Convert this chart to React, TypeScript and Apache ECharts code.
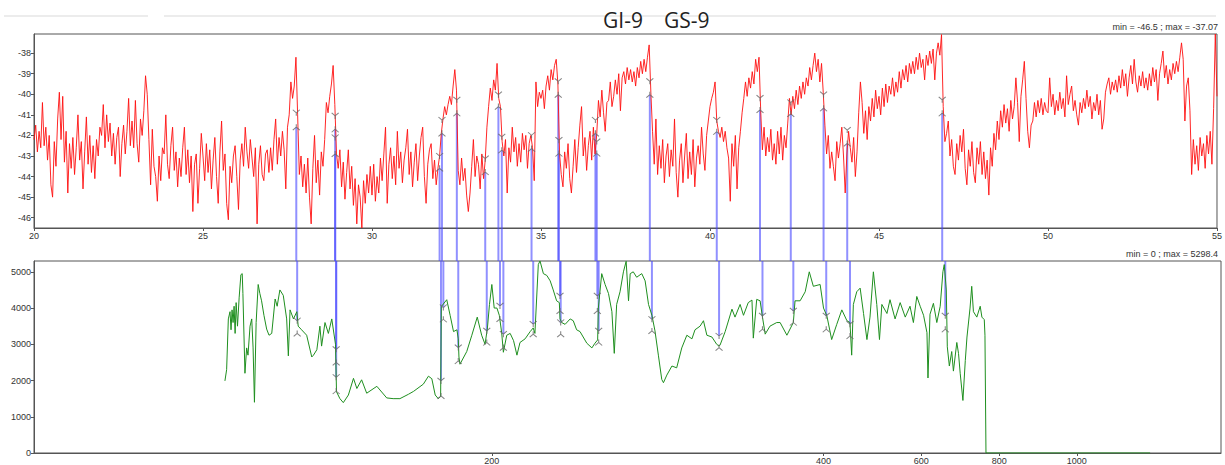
import { useEffect, useRef } from "react";
import * as echarts from "echarts";

// ---------- data ----------
const TITLE_A = "GI-9";
const TITLE_B = "GS-9";
const TOP_NOTE = "min = -46.5 ; max = -37.07";
const BOT_NOTE = "min = 0 ; max = 5298.4";

const TOP_MIN = -46.5;
const TOP_MAX = -37.07;
const BOT_MIN = 0;
const BOT_MAX = 5298.4;

const topYTicks = [-46, -45, -44, -43, -42, -41, -40, -39, -38];
const botYTicks = [0, 1000, 2000, 3000, 4000, 5000];
const botXTickPos = [33.5, 43.28, 46.16, 48.46, 50.75];
const botXTickLabels = ["200", "400", "600", "800", "1000"];

// red record, sampled every 0.05 from 20
const RED_START = 20;
const RED_STEP = 0.05;
const redValues = [
  -42.2, -41.5, -42.8, -41.8, -42.6, -40.4, -42.5, -41.6, -43.2, -42.0, -44.4, -45.0, -42.3, -43.5, -41.2, -39.9, -42.2, -40.1, -43.3, -41.8,
  -44.8, -42.4, -43.6, -42.1, -43.9, -42.6, -41.0, -43.2, -42.3, -44.6, -42.8, -41.1, -43.4, -42.0, -43.8, -42.5, -44.1, -42.2, -43.0, -41.6,
  -42.0, -40.5, -42.6, -41.0, -42.3, -41.4, -43.0, -41.9, -43.4, -42.1, -41.6, -44.0, -42.4, -41.5, -42.9, -41.8, -40.2, -42.5, -41.3, -42.6,
  -40.3, -42.4, -43.3, -41.2, -42.0, -40.8, -39.1, -40.0, -42.2, -44.4, -41.7, -43.5, -44.0, -45.2, -43.0, -44.2, -42.6, -42.9, -41.0, -43.4,
  -44.1, -42.5, -41.6, -43.7, -42.8, -44.5, -43.1, -44.0, -42.6, -41.6, -43.9, -42.7, -44.3, -43.0, -45.7, -43.4, -42.9, -45.3, -43.6, -41.9,
  -43.0, -44.2, -42.4, -43.8, -42.7, -44.6, -43.2, -42.1, -44.0, -45.3, -42.8, -41.3, -43.7, -42.9, -45.3, -46.1, -43.5, -44.3, -43.0, -42.5,
  -44.0, -45.6, -43.2, -42.4, -43.5, -41.6, -42.8, -43.6, -42.2, -43.1, -44.0, -42.6, -46.3, -43.4, -42.5, -43.9, -44.2, -42.9, -42.7, -43.8,
  -42.6, -43.7, -42.2, -41.2, -43.4, -42.1, -43.0, -41.8, -42.7, -44.6, -41.6, -41.0, -39.4, -40.2, -39.6, -38.2, -41.0, -43.9, -43.0, -44.5,
  -43.4, -44.8, -43.1, -45.0, -46.3, -43.6, -42.0, -44.3, -43.2, -44.9, -42.8, -43.5, -42.2, -40.4, -40.9, -40.1, -39.5, -38.6, -40.5, -42.9,
  -43.6, -42.7, -44.5, -43.3, -45.1, -43.8, -42.7, -44.6, -43.5, -45.4, -44.1, -46.3, -44.4, -45.0, -46.5, -44.2, -45.3, -43.9, -44.8, -43.5,
  -44.9, -43.4, -45.2, -44.0, -44.8, -43.1, -44.2, -42.9, -41.6, -45.3, -43.4, -42.6, -44.1, -43.0, -44.4, -41.8, -43.6, -42.8, -44.3, -43.2,
  -42.6, -41.7, -43.9, -42.8, -44.5, -43.3, -42.4, -44.2, -43.0, -42.1, -41.6, -44.0, -45.3, -43.4, -42.7, -42.4, -44.1, -43.2, -44.4, -43.6,
  -43.0, -41.9, -41.2, -40.6, -41.0, -40.5, -40.1, -40.5, -39.6, -38.8, -39.8, -43.7, -44.4, -43.1, -44.2, -43.6, -44.9, -45.7, -44.8, -43.5,
  -42.2, -44.0, -43.0, -43.4, -44.6, -42.9, -44.1, -43.2, -41.6, -40.6, -39.7, -40.3, -39.3, -39.8, -38.5, -40.2, -40.6, -42.3, -43.0, -42.2,
  -44.8, -42.6, -43.3, -41.6, -42.8, -42.1, -43.5, -42.4, -43.3, -41.9, -42.7, -42.0, -43.6, -42.4, -42.0, -42.6, -44.2, -39.4, -40.6, -39.9,
  -40.2, -39.8, -40.7, -39.6, -39.1, -39.8, -38.8, -39.3, -38.6, -38.3, -39.5, -42.9, -43.9, -44.5, -42.8, -43.6, -42.4, -44.1, -44.8, -43.5,
  -42.2, -43.8, -42.6, -41.5, -40.6, -43.0, -42.1, -43.7, -42.5, -41.8, -43.2, -41.6, -42.9, -41.9, -40.3, -41.1, -39.8, -40.9, -41.8, -40.4,
  -40.3, -39.4, -40.6, -40.1, -39.3, -40.0, -39.0, -40.8, -39.2, -38.9, -39.5, -38.7, -39.3, -38.8, -39.4, -38.9, -39.6, -38.7, -39.2, -38.4,
  -39.0, -38.3, -38.9, -38.2, -37.6, -39.9, -41.8, -43.4, -41.2, -43.9, -42.5, -43.6, -42.2, -44.3, -43.0, -42.4, -44.0, -42.7, -43.5, -41.2,
  -43.8, -45.0, -43.2, -42.4, -44.3, -43.0, -41.9, -44.1, -42.8, -43.9, -42.2, -44.5, -43.1, -42.5, -43.4, -41.6, -42.9, -43.7, -42.0, -41.3,
  -40.6, -40.2, -39.9, -39.4, -41.3, -41.8, -42.1, -41.6, -42.3, -41.8, -42.6, -43.1, -45.2, -42.4, -43.5, -42.0, -44.6, -42.6, -41.8, -40.9,
  -40.2, -39.4, -40.1, -39.2, -39.7, -38.9, -39.5, -38.3, -38.9, -38.2, -40.8, -42.7, -41.6, -43.0, -42.1, -42.8, -41.7, -43.2, -42.4, -43.4,
  -41.8, -42.9, -41.6, -43.2, -42.0, -42.6, -41.4, -40.2, -41.0, -40.1, -40.7, -39.8, -40.5, -39.6, -40.2, -39.4, -40.0, -39.2, -39.6, -38.7,
  -39.3, -38.6, -38.0, -38.9, -38.3, -39.4, -38.5, -39.9, -41.5, -42.9, -42.0, -43.6, -42.8, -43.5, -44.2, -42.3, -43.1, -42.4, -41.6, -43.0,
  -44.8, -42.9, -41.8, -42.6, -43.3, -42.1, -44.0, -42.8, -40.9, -39.4, -40.4, -41.9, -40.8, -42.2, -40.6, -41.3, -40.2, -41.1, -39.8, -40.7,
  -40.1, -41.0, -39.7, -40.6, -39.5, -40.4, -39.6, -40.0, -39.2, -40.1, -39.4, -39.9, -38.9, -39.7, -38.8, -39.3, -38.6, -39.4, -38.5, -39.0,
  -38.4, -39.0, -38.2, -38.8, -38.0, -38.7, -38.3, -39.3, -38.1, -38.6, -37.9, -38.5, -37.8, -39.3, -38.0, -37.5, -38.1, -37.1, -40.6, -42.3,
  -41.9, -41.3, -43.0, -42.2, -43.5, -43.9, -42.4, -43.2, -42.0, -42.8, -41.7, -43.6, -44.4, -42.7, -43.5, -42.3, -43.8, -44.3, -42.6, -43.4,
  -42.3, -43.9, -42.8, -44.1, -43.2, -44.9, -42.6, -43.5, -41.9, -42.7, -41.3, -42.2, -40.8, -41.6, -40.5, -41.4, -40.7, -41.8, -40.3, -41.2,
  -40.6, -39.2, -40.4, -42.3, -40.1, -39.3, -38.4, -40.2, -41.8, -42.6, -41.5, -41.3, -40.4, -41.1, -40.3, -40.9, -40.2, -41.0, -40.4, -40.8,
  -40.9, -39.2, -40.6, -40.0, -41.0, -40.3, -40.8, -39.9, -40.7, -40.2, -41.1, -39.1, -40.5, -40.0, -39.6, -40.8, -40.3, -41.0, -41.5, -40.4,
  -40.9, -40.2, -40.7, -39.8, -40.6, -40.1, -41.2, -40.4, -40.8, -40.0, -41.0, -40.3, -41.7, -41.2, -39.9, -39.5, -39.2, -40.0, -39.4, -39.8,
  -39.3, -39.9, -39.1, -39.7, -38.8, -39.6, -39.0, -40.1, -39.2, -38.6, -39.5, -38.3, -39.4, -39.9, -39.1, -39.6, -38.9, -39.7, -39.2, -39.8,
  -39.0, -39.6, -38.7, -39.4, -38.8, -40.3, -39.0, -38.5, -37.9, -39.2, -38.6, -39.5, -38.8, -39.3, -38.5, -39.0, -38.4, -38.9, -38.2, -37.5,
  -38.3, -41.3, -39.6, -39.2, -40.8, -43.9, -42.2, -43.4, -42.5, -43.7, -42.1, -43.0, -42.4, -43.6, -42.0, -42.9, -41.8, -43.4, -40.7, -37.07,
  -40.1,
];

// green record (position on the warped lower axis, value)
const greenAge = [
  25.63, 25.68, 25.73, 25.78, 25.81, 25.84, 25.87, 25.9, 25.93, 25.96, 26.0, 26.05, 26.1, 26.14, 26.16, 26.22, 26.27, 26.31, 26.37, 26.42,
  26.46, 26.5, 26.55, 26.61, 26.66, 26.71, 26.78, 26.86, 26.93, 27.01, 27.11, 27.17, 27.25, 27.35, 27.45, 27.5, 27.55, 27.65, 27.75, 27.79,
  27.89, 28.04, 28.19, 28.24, 28.34, 28.43, 28.48, 28.58, 28.68, 28.78, 28.89, 28.92, 29.02, 29.12, 29.27, 29.42, 29.52, 29.66, 29.81, 30.11,
  30.4, 30.59, 30.79, 31.04, 31.19, 31.48, 31.63, 31.73, 31.83, 31.92, 31.99, 32.01, 32.17, 32.27, 32.37, 32.47, 32.51, 32.53, 32.56, 32.76,
  32.91, 33.07, 33.2, 33.3, 33.37, 33.43, 33.5, 33.57, 33.65, 33.72, 33.79, 33.84, 33.94, 34.04, 34.14, 34.24, 34.33, 34.48, 34.63, 34.72,
  34.77, 34.87, 34.92, 35.02, 35.12, 35.22, 35.31, 35.41, 35.49, 35.51, 35.56, 35.66, 35.81, 35.9, 36.0, 36.1, 36.3, 36.45, 36.54, 36.62,
  36.64, 36.74, 36.84, 36.94, 37.04, 37.11, 37.18, 37.28, 37.38, 37.46, 37.53, 37.58, 37.67, 37.77, 37.92, 38.02, 38.12, 38.22, 38.31, 38.41,
  38.51, 38.56, 38.66, 38.81, 38.95, 39.1, 39.25, 39.4, 39.49, 39.64, 39.74, 39.84, 39.99, 40.13, 40.2, 40.23, 40.38, 40.58, 40.67, 40.82,
  40.92, 41.06, 41.17, 41.21, 41.31, 41.41, 41.48, 41.56, 41.7, 41.9, 42.0, 42.2, 42.39, 42.44, 42.59, 42.74, 42.86, 42.98, 43.18, 43.28,
  43.38, 43.52, 43.67, 43.82, 43.97, 44.06, 44.11, 44.16, 44.26, 44.36, 44.46, 44.56, 44.65, 44.75, 44.85, 44.93, 45.0, 45.15, 45.24, 45.39,
  45.54, 45.69, 45.83, 45.93, 46.03, 46.13, 46.23, 46.33, 46.36, 46.42, 46.52, 46.62, 46.72, 46.8, 46.84, 46.9, 46.93, 46.99, 47.06, 47.11,
  47.21, 47.26, 47.31, 47.39, 47.46, 47.51, 47.6, 47.65, 47.7, 47.8, 47.9, 47.95, 48.02, 48.04, 48.07, 52.91,
];
const greenVal = [
  1990, 2300, 3700, 3900, 3400, 3950, 3600, 4050, 3300, 4150, 3500, 4300, 4920, 4950, 4400, 2200, 2900, 2700, 3500, 3700,
  2900, 1400, 3600, 4650, 4400, 4200, 3800, 3420, 3250, 3300, 4250, 4050, 4500, 4350, 3700, 2680, 3950, 3700, 3900, 3500,
  3400, 3250, 2650, 2700, 2850, 3500, 2950, 3600, 3300, 3700, 3000, 1690, 1500, 1390, 1600, 2060, 1780, 2020, 1650, 1840,
  1520, 1500, 1500, 1620, 1700, 1900, 2120, 2050, 1600, 1500, 1560, 4040, 4230, 3800, 3350, 3400, 3150, 2650, 2450, 2800,
  3250, 3750, 3250, 3000, 3450, 4100, 4650, 4000, 4000, 3800, 3320, 2780, 3250, 3300, 3100, 2700, 3050, 3150, 3350, 3450,
  3300, 5200, 5300, 4950, 4900, 4750, 4500, 4200, 4150, 3700, 3600, 3550, 3700, 3650, 3400, 3350, 3030, 2900, 3030, 3120,
  4000, 4950, 4650, 4400, 3900, 2750, 4100, 4450, 5000, 5290, 4200, 4950, 5000, 4850, 4950, 4750, 4100, 3800, 3370, 2700,
  2030, 1940, 2150, 2400, 2350, 2900, 3250, 3150, 3400, 3500, 3650, 3250, 3200, 3000, 2950, 2980, 3350, 3970, 3750, 4100,
  3800, 4150, 4220, 3170, 4240, 4200, 3750, 3280, 3500, 3600, 3600, 3250, 3600, 4200, 4200, 4450, 5000, 4600, 4650, 4000,
  3780, 3130, 3550, 3950, 3650, 3600, 2700, 4100, 4450, 4550, 3850, 3130, 3750, 5000, 4100, 3130, 4100, 3850, 4230, 3700,
  4150, 3750, 4050, 3600, 4320, 4050, 3800, 3320, 2070, 3830, 4130, 3600, 4050, 5000, 5200, 4500, 2930, 2400, 2800, 2260,
  3050, 2750, 2200, 1450, 2550, 3200, 4000, 4600, 3900, 3750, 4050, 3750, 3680, 3250, 0, 0,
];

// tie points: position, red upper / lower mark, green upper / lower mark
const tieAge = [27.76, 28.91, 28.91, 32.0, 32.07, 32.51, 33.35, 33.74, 33.84, 34.72, 35.51, 35.53, 36.61, 36.65, 38.22, 40.2, 41.48, 42.39, 43.36, 44.06, 46.87];
const tieTopU = [-40.9, -41.05, -42.1, -43.0, -41.25, -40.27, -43.13, -40.02, -42.07, -41.99, -39.37, -42.23, -41.25, -42.3, -39.37, -41.25, -40.19, -40.4, -40.02, -41.74, -40.27];
const tieTopL = [-41.6, -41.7, -42.9, -43.6, -41.9, -40.92, -43.78, -40.6, -42.72, -42.64, -40.02, -42.88, -41.9, -42.88, -40.02, -41.82, -40.76, -40.95, -40.68, -42.39, -40.92];
const tieBotU = [3650, 2860, 2090, 1990, 4015, 2910, 3370, 4060, 3280, 3555, 4335, 3600, 4335, 3370, 3690, 3230, 3785, 3920, 3785, 3555, 3785];
const tieBotL = [3300, 2500, 1710, 1575, 3690, 2540, 3050, 3700, 2910, 3280, 3920, 3280, 3920, 3050, 3370, 2910, 3415, 3600, 3415, 3230, 3415];

// ---------- layout / style ----------
const G_LEFT = 34;
const G_RIGHT = 4;
const TOP_T = 34;
const TOP_H = 194;
const BOT_T = 261;
const BOT_H = 193;
const BLUE = "rgba(70,70,255,0.6)";
const FONT = "Liberation Sans";
const SYM_U = "path://M0,0L5,5L10,0M5,5L5,10";
const SYM_L = "path://M5,0L5,5M0,10L5,5L10,10";

export default function App() {
  const ref = useRef<HTMLDivElement | null>(null);

  useEffect(() => {
    if (!ref.current) return;
    const chart = echarts.init(ref.current, undefined, { renderer: "svg" });

    const redData = redValues.map((v, i) => [+(RED_START + i * RED_STEP).toFixed(2), v]);
    const greenData = greenAge.map((a, i) => [a, greenVal[i]]);
    const topL = tieAge.map((a, i) => [a, tieTopL[i]]);
    const topU = tieAge.map((a, i) => [a, tieTopU[i]]);
    const botU = tieAge.map((a, i) => [a, tieBotU[i]]);
    const botL = tieAge.map((a, i) => [a, tieBotL[i]]);

    const axisLine = { show: true, lineStyle: { color: "#555", width: 1 } };
    const label = { color: "#333", fontSize: 9, fontFamily: FONT };
    const plain = (v: number) => String(v);

    const markerSeries = (data: number[][], sym: string, xi: number) => ({
      type: "scatter",
      xAxisIndex: xi,
      yAxisIndex: xi,
      data,
      symbol: sym,
      symbolSize: [7, 6],
      itemStyle: { color: "transparent", borderColor: "#666", borderWidth: 1 },
      z: 5,
      silent: true,
    });

    chart.setOption({
      animation: false,
      textStyle: { fontFamily: FONT },
      grid: [
        { left: G_LEFT, right: G_RIGHT, top: TOP_T, height: TOP_H, show: true, borderColor: "#555", borderWidth: 1, backgroundColor: "#fff" },
        { left: G_LEFT, right: G_RIGHT, top: BOT_T, height: BOT_H, show: true, borderColor: "#555", borderWidth: 1, backgroundColor: "#fff" },
      ],
      xAxis: [
        {
          type: "value", gridIndex: 0, min: 20, max: 55, interval: 5,
          axisLine, axisTick: { show: true, length: 3, lineStyle: { color: "#555" } },
          axisLabel: { ...label, margin: 3, formatter: plain }, splitLine: { show: false },
        },
        {
          type: "value", gridIndex: 1, min: 20, max: 55,
          axisLine,
          axisTick: { show: true, length: 3, customValues: botXTickPos, lineStyle: { color: "#555" } },
          axisLabel: {
            ...label, margin: 3, customValues: botXTickPos,
            formatter: (v: number) => {
              const k = botXTickPos.findIndex((p) => Math.abs(p - v) < 1e-6);
              return k >= 0 ? botXTickLabels[k] : "";
            },
          },
          splitLine: { show: false },
        },
      ],
      yAxis: [
        {
          type: "value", gridIndex: 0, min: TOP_MIN, max: TOP_MAX,
          axisLine, axisTick: { show: true, length: 3, customValues: topYTicks, lineStyle: { color: "#555" } },
          axisLabel: { ...label, margin: 3, customValues: topYTicks, formatter: plain }, splitLine: { show: false },
        },
        {
          type: "value", gridIndex: 1, min: BOT_MIN, max: BOT_MAX,
          axisLine, axisTick: { show: true, length: 3, customValues: botYTicks, lineStyle: { color: "#555" } },
          axisLabel: { ...label, margin: 3, customValues: botYTicks, formatter: plain }, splitLine: { show: false },
        },
      ],
      series: [
        {
          type: "custom", xAxisIndex: 0, yAxisIndex: 0, data: topL, clip: false, z: 1, silent: true,
          encode: { x: 0, y: 1 },
          renderItem: (_p: any, api: any) => {
            const p = api.coord([api.value(0), api.value(1)]);
            return { type: "line", shape: { x1: p[0], y1: p[1], x2: p[0], y2: BOT_T }, style: { stroke: BLUE, lineWidth: 2 } };
          },
        },
        {
          type: "custom", xAxisIndex: 1, yAxisIndex: 1, data: botU, clip: false, z: 1, silent: true,
          encode: { x: 0, y: 1 },
          renderItem: (_p: any, api: any) => {
            const p = api.coord([api.value(0), api.value(1)]);
            return { type: "line", shape: { x1: p[0], y1: BOT_T, x2: p[0], y2: p[1] }, style: { stroke: BLUE, lineWidth: 2 } };
          },
        },
        {
          type: "line", xAxisIndex: 0, yAxisIndex: 0, data: redData, showSymbol: false, symbol: "none",
          lineStyle: { color: "#ff1010", width: 0.9 }, z: 3, silent: true,
        },
        {
          type: "line", xAxisIndex: 1, yAxisIndex: 1, data: greenData, showSymbol: false, symbol: "none",
          lineStyle: { color: "#1f8f1f", width: 1 }, z: 3, silent: true,
        },
        markerSeries(topU, SYM_U, 0),
        markerSeries(topL, SYM_L, 0),
        markerSeries(botU, SYM_U, 1),
        markerSeries(botL, SYM_L, 1),
      ],
      graphic: [
        { type: "line", shape: { x1: 4, y1: 16, x2: 148, y2: 16 }, style: { stroke: "#ececec", lineWidth: 2 }, silent: true },
        { type: "line", shape: { x1: 164, y1: 16, x2: 1216, y2: 16 }, style: { stroke: "#ececec", lineWidth: 2 }, silent: true },
        { type: "text", left: 603, top: 9, style: { text: TITLE_A, fontSize: 21, fontFamily: "Open Sans", fill: "#222" } },
        { type: "text", left: 664, top: 9, style: { text: TITLE_B, fontSize: 21, fontFamily: "Open Sans", fill: "#222" } },
        { type: "text", right: 7, top: 22, style: { text: TOP_NOTE, fontSize: 9, fontFamily: FONT, fill: "#333" } },
        { type: "text", right: 7, top: 249, style: { text: BOT_NOTE, fontSize: 9, fontFamily: FONT, fill: "#333" } },
      ],
    });

    return () => chart.dispose();
  }, []);

  return <div ref={ref} style={{ position: "absolute", left: 0, top: 0, width: 1225, height: 465 }} />;
}
